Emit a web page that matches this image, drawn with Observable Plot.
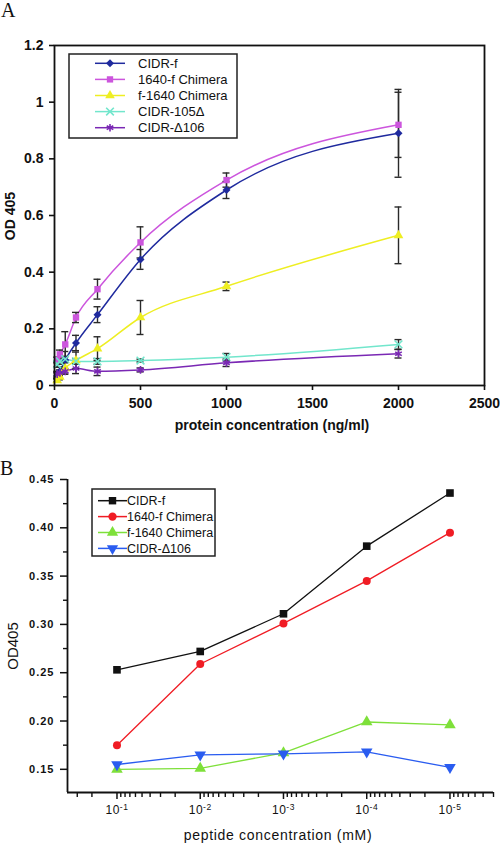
<!DOCTYPE html>
<html><head><meta charset="utf-8">
<script src="https://cdn.jsdelivr.net/npm/d3@7"></script>
<script src="https://cdn.jsdelivr.net/npm/@observablehq/plot@0.6"></script>
<style>
body{margin:0;background:#fff;}
#wrap{position:relative;width:500px;height:844px;overflow:hidden;background:#fff;}
.panel{position:absolute;left:0;}
</style></head><body><div id="wrap"><div id="pa" class="panel" style="top:0"></div><div id="pb" class="panel" style="top:432px"></div></div>
<script>
// ---------- Panel A data ----------
const concA = [15.6, 31.25, 62.5, 125, 250, 500, 1000, 2000];
const seriesA = ["CIDR-f", "1640-f Chimera", "f-1640 Chimera", "CIDR-105Δ", "CIDR-Δ106"];
const odCidrF   = [0.035, 0.05, 0.09, 0.15, 0.25, 0.445, 0.69, 0.89];
const od1640f   = [0.09, 0.11, 0.145, 0.24, 0.34, 0.505, 0.725, 0.92];
const odF1640   = [0.018, 0.03, 0.06, 0.088, 0.13, 0.24, 0.35, 0.53];
const odCidr105 = [0.075, 0.085, 0.093, 0.085, 0.085, 0.088, 0.1, 0.145];
const odCidr106 = [0.04, 0.045, 0.05, 0.06, 0.05, 0.055, 0.08, 0.112];
const errCidrF   = [0.01, 0.015, 0.03, 0.027, 0.028, 0.035, 0.03, 0.155];
const err1640f   = [0.01, 0.015, 0.045, 0.018, 0.035, 0.055, 0.025, 0.115];
const errF1640   = [0.005, 0.01, 0.02, 0.03, 0.042, 0.06, 0.015, 0.1];
const errCidr105 = [0.01, 0.01, 0.01, 0.01, 0.01, 0.005, 0.013, 0.017];
const errCidr106 = [0.01, 0.01, 0.01, 0.018, 0.015, 0.007, 0.013, 0.015];
const xTicksA = [0, 500, 1000, 1500, 2000, 2500];
const yTicksA = [0, 0.2, 0.4, 0.6, 0.8, 1, 1.2];

// ---------- Panel B data ----------
const concB = [1e-1, 1e-2, 1e-3, 1e-4, 1e-5];
const seriesB = ["CIDR-f", "1640-f Chimera", "f-1640 Chimera", "CIDR-Δ106"];
const odBCidrF   = [0.253, 0.272, 0.311, 0.381, 0.436];
const odB1640f   = [0.175, 0.259, 0.301, 0.345, 0.395];
const odBF1640   = [0.150, 0.151, 0.167, 0.199, 0.196];
const odBCidr106 = [0.155, 0.165, 0.166, 0.168, 0.152];
const xTicksB = [1e-1, 1e-2, 1e-3, 1e-4, 1e-5];
const xTickExpB = ["-1", "-2", "-3", "-4", "-5"];
const yTicksB = [0.15, 0.20, 0.25, 0.30, 0.35, 0.40, 0.45];
const yMinorB = [0.175, 0.225, 0.275, 0.325, 0.375, 0.425];

// ---------- styles ----------
const colorsA = ["#1f2a9e", "#cc55dd", "#eeee22", "#72e6cc", "#7a28b4"];
const symbolsA = ["diamond2", "square", "triangle", "times", "asterisk"];
const filledA = [true, true, true, false, false];
const colorsB = ["#111111", "#f01c24", "#7ee03a", "#2a5cf0"];
const triDown = {
  draw(ctx, size) {
    const s3 = Math.sqrt(3);
    const y = -Math.sqrt(size / (s3 * 3));
    ctx.moveTo(0, -y * 2);
    ctx.lineTo(-s3 * y, y);
    ctx.lineTo(s3 * y, y);
    ctx.closePath();
  }
};
const symbolsB = ["square", "circle", "triangle", triDown];
const FONT = "'Liberation Sans', Arial, sans-serif";

// ---------- Panel A ----------
const valsA = [odCidrF, od1640f, odF1640, odCidr105, odCidr106];
const errsA = [errCidrF, err1640f, errF1640, errCidr105, errCidr106];
const rowsA = seriesA.flatMap((s, i) => concA.map((c, j) => ({series: s, si: i, conc: c, od: valsA[i][j], err: errsA[i][j]})));

const marksA = [
  Plot.axisX({ticks: xTicksA, tickSize: 5, tickPadding: 8, tickFormat: d => String(d), label: null, strokeWidth: 1.6}),
  Plot.axisY({ticks: yTicksA, tickSize: 5, tickPadding: 6, tickFormat: d => String(+d.toFixed(1)), label: null, strokeWidth: 1.6}),
];
seriesA.forEach((s, i) => {
  const d = rowsA.filter(r => r.si === i);
  marksA.push(Plot.line(d, {x: "conc", y: "od", stroke: colorsA[i], strokeWidth: 1.5, curve: "monotone-x"}));
});
marksA.push(
  Plot.ruleX(rowsA, {x: "conc", y1: d => d.od - d.err, y2: d => d.od + d.err, stroke: "#2a2a2a", strokeWidth: 1.4}),
  Plot.ruleY(rowsA, {y: d => d.od + d.err, x1: "conc", x2: "conc", insetLeft: -3.5, insetRight: -3.5, stroke: "#2a2a2a", strokeWidth: 1.4}),
  Plot.ruleY(rowsA, {y: d => d.od - d.err, x1: "conc", x2: "conc", insetLeft: -3.5, insetRight: -3.5, stroke: "#2a2a2a", strokeWidth: 1.4})
);
seriesA.forEach((s, i) => {
  const d = rowsA.filter(r => r.si === i);
  marksA.push(filledA[i]
    ? Plot.dot(d, {x: "conc", y: "od", symbol: symbolsA[i], fill: colorsA[i], r: 3.6})
    : Plot.dot(d, {x: "conc", y: "od", symbol: symbolsA[i], stroke: colorsA[i], strokeWidth: 1.6, r: 3.6}));
});
marksA.push(Plot.frame({stroke: "#111", strokeWidth: 1.8}));

const plotA = Plot.plot({
  width: 500, height: 432,
  marginTop: 45, marginBottom: 47, marginLeft: 54, marginRight: 16,
  x: {domain: [0, 2500]},
  y: {domain: [0, 1.2]},
  style: {fontFamily: FONT, fontSize: "14px", fontWeight: "bold", color: "#111", background: "transparent"},
  marks: marksA
});
document.getElementById("pa").appendChild(plotA);

// ---------- Panel B ----------
const valsB = [odBCidrF, odB1640f, odBF1640, odBCidr106];
const rowsB = seriesB.flatMap((s, i) => concB.map((c, j) => ({series: s, si: i, conc: c, od: valsB[i][j]})));
const xDomainB = [0.393, 3.0e-6];
const yDomainB = [0.126, 0.45];
const xMinorB = [];
for (let e = -6; e <= -1; e++) for (let k = 2; k <= 9; k++) {
  const v = k * Math.pow(10, e);
  if (v <= xDomainB[0] && v >= xDomainB[1]) xMinorB.push(v);
}
const xLabelOf = d => "10^" + xTickExpB[Math.round(-Math.log10(d)) - 1];
const marksB = [
  Plot.axisX({ticks: xMinorB, tickSize: 5, tickFormat: () => "", label: null, strokeWidth: 1.4}),
  Plot.axisX({ticks: xTicksB, tickSize: 7, tickPadding: 6, tickFormat: xLabelOf, label: null, strokeWidth: 1.5}),
  Plot.axisY({ticks: yMinorB, tickSize: 4, tickFormat: () => "", label: null, strokeWidth: 1.4}),
  Plot.axisY({ticks: yTicksB, tickSize: 7, tickPadding: 6, tickFormat: d3.format(".2f"), label: null, strokeWidth: 1.5}),
  Plot.ruleX([xDomainB[0]], {stroke: "#111", strokeWidth: 1.8}),
  Plot.ruleY([yDomainB[0]], {stroke: "#111", strokeWidth: 1.8}),
];
seriesB.forEach((s, i) => {
  const d = rowsB.filter(r => r.si === i);
  marksB.push(Plot.line(d, {x: "conc", y: "od", stroke: colorsB[i], strokeWidth: 1.3}));
});
seriesB.forEach((s, i) => {
  const d = rowsB.filter(r => r.si === i);
  marksB.push(Plot.dot(d, {x: "conc", y: "od", symbol: symbolsB[i], fill: colorsB[i], r: i === 1 ? 4 : 4.3}));
});
const plotB = Plot.plot({
  width: 500, height: 412,
  marginTop: 47, marginBottom: 52, marginLeft: 67, marginRight: 7,
  x: {type: "log", domain: xDomainB},
  y: {domain: yDomainB},
  style: {fontFamily: FONT, fontSize: "11px", fontWeight: "bold", color: "#111", background: "transparent", letterSpacing: "1px"},
  marks: marksB
});
document.getElementById("pb").appendChild(plotB);

// rebuild power-of-ten labels with real superscripts
d3.select(plotB).selectAll("text").each(function () {
  const t = this.textContent;
  if (!t.startsWith("10^")) return;
  const exp = t.slice(3);
  const sel = d3.select(this);
  sel.text("10").attr("font-weight", "normal").attr("font-size", 12).attr("letter-spacing", "0.5px");
  sel.append("tspan").attr("dy", "-0.45em").attr("font-size", 8.5).text(exp);
});

// ---------- overlay: panel letters, axis titles, legends ----------
const ov = d3.select("#wrap").append("svg")
  .attr("width", 500).attr("height", 844)
  .style("position", "absolute").style("left", 0).style("top", 0);

ov.append("text").attr("x", 1).attr("y", 17).text("A")
  .attr("font-family", "'Liberation Serif', 'Times New Roman', serif").attr("font-size", 20).attr("fill", "#111");
ov.append("text").attr("x", 0).attr("y", 475).text("B")
  .attr("font-family", "'Liberation Serif', 'Times New Roman', serif").attr("font-size", 20).attr("fill", "#111");

ov.append("text").attr("transform", "translate(15,216) rotate(-90)").attr("text-anchor", "middle")
  .attr("font-family", FONT).attr("font-size", 14).attr("font-weight", "bold").attr("fill", "#111").text("OD 405");
ov.append("text").attr("x", 272).attr("y", 430).attr("text-anchor", "middle")
  .attr("font-family", FONT).attr("font-size", 14).attr("font-weight", "bold").attr("fill", "#111").text("protein concentration (ng/ml)");
ov.append("text").attr("transform", "translate(18,646) rotate(-90)").attr("text-anchor", "middle")
  .attr("font-family", FONT).attr("font-size", 15).attr("fill", "#111").text("OD405");
ov.append("text").attr("x", 278).attr("y", 840).attr("text-anchor", "middle")
  .attr("font-family", FONT).attr("font-size", 14).attr("letter-spacing", "0.7px").attr("fill", "#111").text("peptide concentration (mM)");

function legend(x0, y0, w, h, rowY0, dy, lx0, lx1, tx, fs, names, colors, symbols, filled, symSize) {
  ov.append("rect").attr("x", x0).attr("y", y0).attr("width", w).attr("height", h)
    .attr("fill", "#fff").attr("stroke", "#222").attr("stroke-width", 1.5);
  names.forEach((n, i) => {
    const y = rowY0 + i * dy;
    ov.append("line").attr("x1", lx0).attr("x2", lx1).attr("y1", y).attr("y2", y)
      .attr("stroke", colors[i]).attr("stroke-width", 1.5);
    const symName = symbols[i];
    const symType = typeof symName === "string"
      ? {diamond2: d3.symbolDiamond2, square: d3.symbolSquare, triangle: d3.symbolTriangle, times: d3.symbolTimes, asterisk: d3.symbolAsterisk, circle: d3.symbolCircle}[symName]
      : symName;
    const p = ov.append("path").attr("d", d3.symbol(symType, symSize)())
      .attr("transform", `translate(${(lx0 + lx1) / 2},${y})`);
    if (filled[i]) p.attr("fill", colors[i]); else p.attr("fill", "none").attr("stroke", colors[i]).attr("stroke-width", 1.6);
    ov.append("text").attr("x", tx).attr("y", y + fs * 0.36).attr("font-family", FONT).attr("font-size", fs)
      .attr("fill", "#111").text(n);
  });
}
legend(69, 54, 168, 84, 63.3, 16.1, 95, 125, 138, 13, seriesA, colorsA, symbolsA, filledA, 40);
legend(92, 489, 123, 67, 500.7, 15.9, 98, 127, 127, 12.5, seriesB, colorsB, symbolsB, [true, true, true, true], 55);
</script></body></html>
